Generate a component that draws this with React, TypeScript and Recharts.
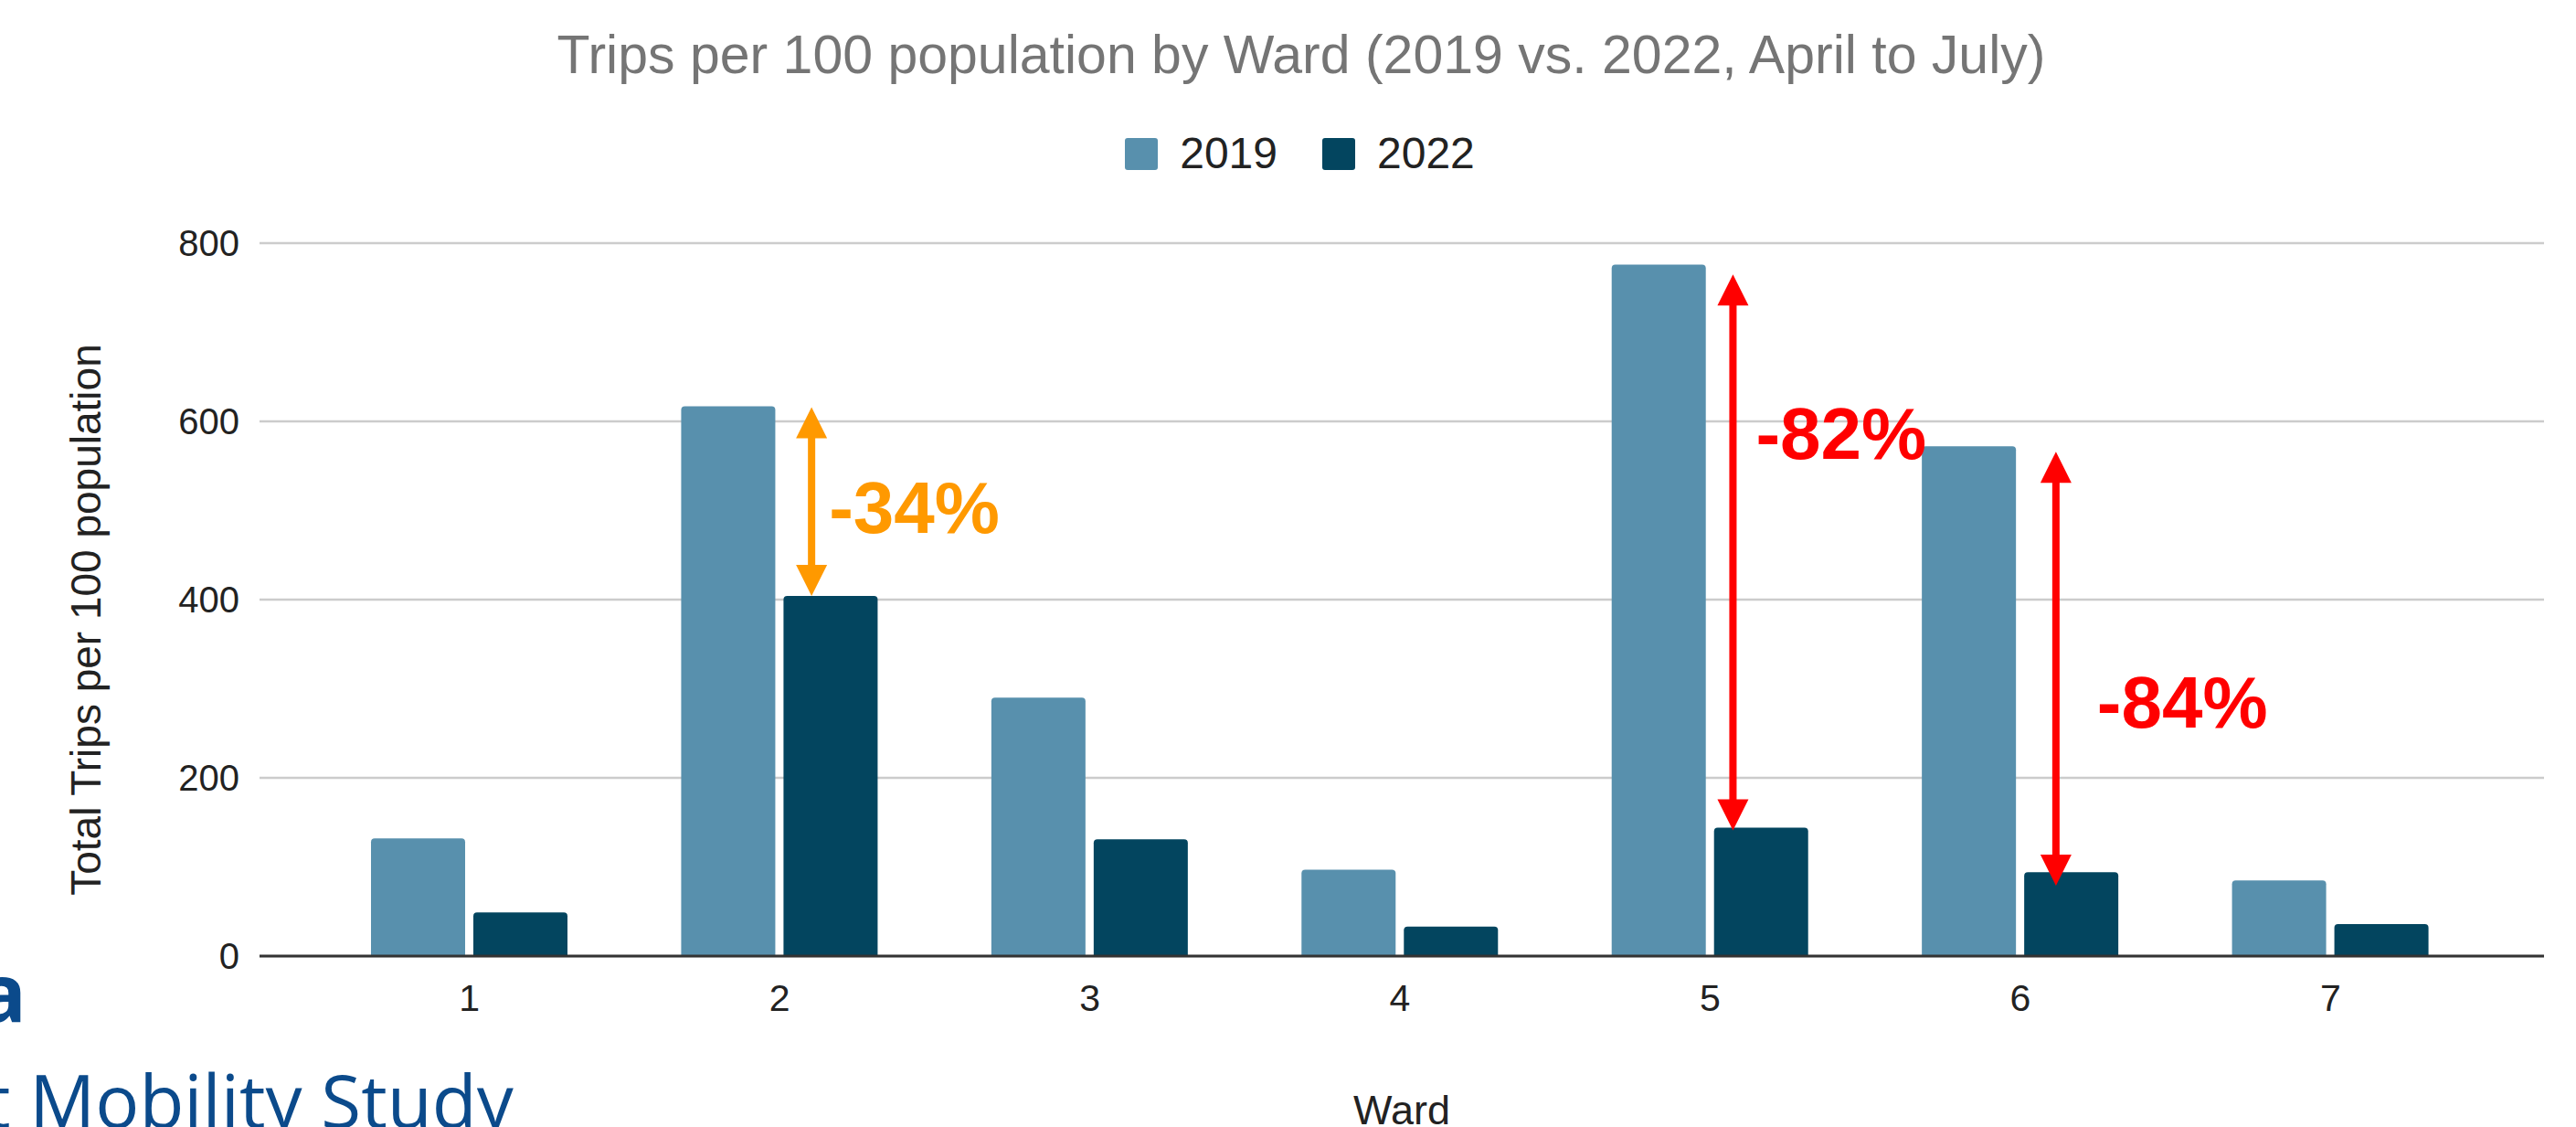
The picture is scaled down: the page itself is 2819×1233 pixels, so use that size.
import React from "react";
import {
  BarChart,
  Bar,
  XAxis,
  YAxis,
  CartesianGrid,
  Legend,
  ReferenceLine,
  ReferenceDot,
} from "recharts";

const WARDS = ["1", "2", "3", "4", "5", "6", "7"];
const TRIPS_2019 = [132, 617, 290, 97, 776, 572, 85];
const TRIPS_2022 = [49, 404, 131, 33, 144, 94, 36];
const Y_TICKS = [0, 200, 400, 600, 800];

// drop annotations: ward, arrow top value, arrow bottom value, text
const DROP_WARDS = ["2", "5", "6"];
const DROP_FROM = [616, 765, 566];
const DROP_TO = [404, 141, 79];
const DROP_TEXT = ["-34%", "-82%", "-84%"];

const DROP_STYLE = [
  { color: "#ff9900", dx: 35, labelDx: 54, labelAt: 475 },
  { color: "#ff0000", dx: 25, labelDx: 50, labelAt: 558 },
  { color: "#ff0000", dx: 39, labelDx: 84, labelAt: 256 },
];

const W = 2819;
const H = 1233;
const FONT = '"Liberation Sans", Arial, sans-serif';
const COLOR_2019 = "#5890ad";
const COLOR_2022 = "#03455f";

const chartData = WARDS.map((ward, i) => ({
  ward,
  y2019: TRIPS_2019[i],
  y2022: TRIPS_2022[i],
}));

function arrowShape(color: string, dx: number) {
  return (props: any) => {
    const x = props.x1 + dx;
    const top = Math.min(props.y1, props.y2);
    const bot = Math.max(props.y1, props.y2);
    const head = 34;
    const half = 17;
    return (
      <g>
        <line x1={x} x2={x} y1={top + head - 2} y2={bot - head + 2} stroke={color} strokeWidth={8} />
        <polygon points={`${x},${top} ${x - half},${top + head} ${x + half},${top + head}`} fill={color} />
        <polygon points={`${x},${bot} ${x - half},${bot - head} ${x + half},${bot - head}`} fill={color} />
      </g>
    );
  };
}

function dropLabel(text: string, color: string, dx: number) {
  return (props: any) => (
    <text x={props.cx + dx} y={props.cy} fill={color} fontSize={80} fontWeight="bold" fontFamily={FONT}>
      {text}
    </text>
  );
}

const YTitle = (props: any) => {
  const vb = props.viewBox;
  const cy = vb.y + vb.height / 2 + 22;
  return (
    <text
      x={110}
      y={cy}
      transform={`rotate(-90 110 ${cy})`}
      textAnchor="middle"
      fontSize={46}
      fill="#222"
      fontFamily={FONT}
    >
      Total Trips per 100 population
    </text>
  );
};

const XTitle = (props: any) => {
  const vb = props.viewBox;
  return (
    <text x={vb.x + vb.width / 2} y={vb.y + 184} textAnchor="middle" fontSize={45} fill="#222" fontFamily={FONT}>
      Ward
    </text>
  );
};

const LegendContent = (props: any) => (
  <div
    style={{
      display: "flex",
      justifyContent: "center",
      alignItems: "center",
      paddingLeft: 26,
      fontFamily: FONT,
      fontSize: 48,
      color: "#222",
      lineHeight: "36px",
    }}
  >
    {(props.payload || []).map((item: any, i: number) => (
      <div key={item.value} style={{ display: "flex", alignItems: "center", marginLeft: i === 0 ? 0 : 49 }}>
        <span
          style={{ width: 36, height: 35, borderRadius: 3, background: item.color, display: "inline-block", marginRight: 24 }}
        />
        <span>{item.value}</span>
      </div>
    ))}
  </div>
);

export default function App() {
  return (
    <div style={{ position: "absolute", left: 0, top: 0, width: W, height: H, background: "#fff", overflow: "hidden" }}>
      <svg width={W} height={H} style={{ position: "absolute", left: 0, top: 0 }}>
        <text x={1424} y={80} textAnchor="middle" fontSize={59} fill="#757575" fontFamily={FONT}>
          Trips per 100 population by Ward (2019 vs. 2022, April to July)
        </text>
        <text x={29} y={1118} textAnchor="end" fontSize={88} fontWeight="bold" fill="#0b4a8b" fontFamily='"Open Sans", sans-serif'>
          a
        </text>
        <text x={-17} y={1234} fontSize={80} fill="#0b4a8b" fontFamily='"Open Sans", sans-serif'>
          t Mobility Study
        </text>
      </svg>
      <div style={{ position: "absolute", left: 0, top: 0 }}>
        <BarChart
          width={W}
          height={H}
          data={chartData}
          margin={{ top: 266, right: 35, bottom: 157, left: 0 }}
          barSize={103}
          barGap={9}
        >
          <CartesianGrid vertical={false} stroke="#cccccc" strokeWidth={2.5} />
          <XAxis
            dataKey="ward"
            height={30}
            padding={{ left: 60, right: 64 }}
            tickLine={false}
            tickSize={0}
            tickMargin={31}
            axisLine={{ stroke: "#333", strokeWidth: 3 }}
            tick={{ fontSize: 41, fill: "#222", fontFamily: FONT }}
            label={<XTitle />}
          />
          <YAxis
            width={284}
            domain={[0, 800]}
            ticks={Y_TICKS}
            tickLine={false}
            axisLine={false}
            tickSize={0}
            tickMargin={22}
            tick={{ fontSize: 40, fill: "#222", fontFamily: FONT }}
            label={<YTitle />}
          />
          <Legend
            verticalAlign="middle"
            align="center"
            content={<LegendContent />}
            wrapperStyle={{ top: 150, left: 0, width: W }}
          />
          <Bar dataKey="y2019" name="2019" fill={COLOR_2019} radius={[4, 4, 0, 0]} isAnimationActive={false} />
          <Bar dataKey="y2022" name="2022" fill={COLOR_2022} radius={[4, 4, 0, 0]} isAnimationActive={false} />
          {DROP_WARDS.map((ward, i) => (
            <ReferenceLine
              key={`arrow-${ward}`}
              segment={[
                { x: ward, y: DROP_FROM[i] },
                { x: ward, y: DROP_TO[i] },
              ]}
              ifOverflow="visible"
              shape={arrowShape(DROP_STYLE[i].color, DROP_STYLE[i].dx)}
            />
          ))}
          {DROP_WARDS.map((ward, i) => (
            <ReferenceDot
              key={`label-${ward}`}
              x={ward}
              y={DROP_STYLE[i].labelAt}
              r={0}
              ifOverflow="visible"
              shape={dropLabel(DROP_TEXT[i], DROP_STYLE[i].color, DROP_STYLE[i].labelDx)}
            />
          ))}
        </BarChart>
      </div>
    </div>
  );
}
